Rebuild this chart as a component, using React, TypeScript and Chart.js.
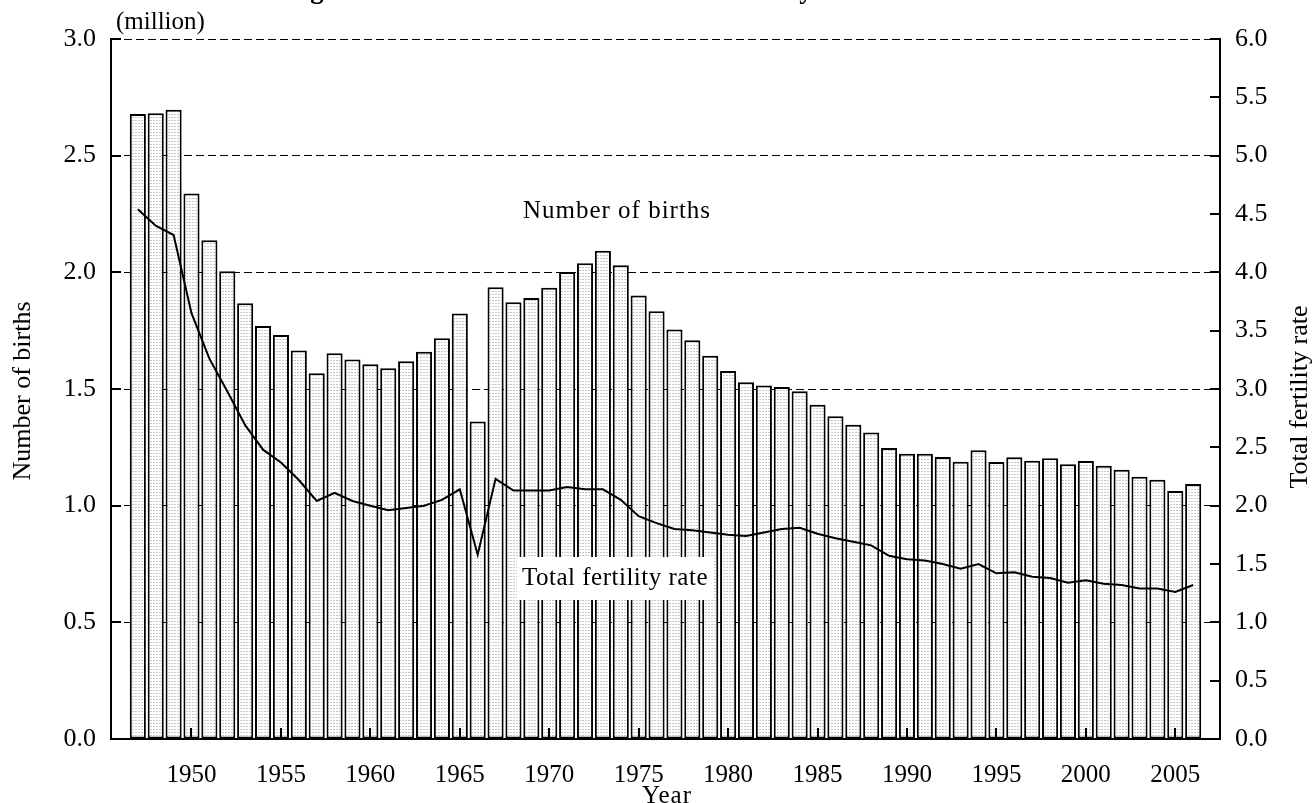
import React, { useEffect, useRef } from 'react';
import { Chart, registerables } from 'chart.js';

Chart.register(...registerables);

// ---- data ----
const years = [
  1947, 1948, 1949, 1950, 1951, 1952, 1953, 1954, 1955, 1956,
  1957, 1958, 1959, 1960, 1961, 1962, 1963, 1964, 1965, 1966,
  1967, 1968, 1969, 1970, 1971, 1972, 1973, 1974, 1975, 1976,
  1977, 1978, 1979, 1980, 1981, 1982, 1983, 1984, 1985, 1986,
  1987, 1988, 1989, 1990, 1991, 1992, 1993, 1994, 1995, 1996,
  1997, 1998, 1999, 2000, 2001, 2002, 2003, 2004, 2005, 2006,
];

// Number of births (million)
const births = [
  2.679, 2.682, 2.697, 2.338, 2.138, 2.005, 1.868, 1.770, 1.731, 1.665,
  1.567, 1.653, 1.626, 1.606, 1.589, 1.619, 1.660, 1.717, 1.824, 1.361,
  1.936, 1.872, 1.890, 1.934, 2.001, 2.039, 2.092, 2.030, 1.901, 1.833,
  1.755, 1.709, 1.643, 1.577, 1.529, 1.515, 1.509, 1.490, 1.432, 1.383,
  1.347, 1.314, 1.247, 1.222, 1.223, 1.209, 1.188, 1.238, 1.187, 1.207,
  1.192, 1.203, 1.178, 1.191, 1.171, 1.154, 1.124, 1.111, 1.063, 1.093,
];

// Total fertility rate
const fertility = [
  4.54, 4.40, 4.32, 3.65, 3.26, 2.98, 2.69, 2.48, 2.37, 2.22,
  2.04, 2.11, 2.04, 2.00, 1.96, 1.98, 2.00, 2.05, 2.14, 1.58,
  2.23, 2.13, 2.13, 2.13, 2.16, 2.14, 2.14, 2.05, 1.91, 1.85,
  1.80, 1.79, 1.77, 1.75, 1.74, 1.77, 1.80, 1.81, 1.76, 1.72,
  1.69, 1.66, 1.57, 1.54, 1.53, 1.50, 1.46, 1.50, 1.42, 1.43,
  1.39, 1.38, 1.34, 1.36, 1.33, 1.32, 1.29, 1.29, 1.26, 1.32,
];

const xTickYears = [1950, 1955, 1960, 1965, 1970, 1975, 1980, 1985, 1990, 1995, 2000, 2005];
const leftTicks = [0.5, 1.0, 1.5, 2.0, 2.5, 3.0];
const rightTicks = [0.5, 1.0, 1.5, 2.0, 2.5, 3.0, 3.5, 4.0, 4.5, 5.0, 5.5, 6.0];

const titleText = 'Figure 1  Number of Births and Total Fertility Rate';
const FONT = '"Liberation Serif", "Times New Roman", serif';

function makePattern(): CanvasPattern | string {
  const c = document.createElement('canvas');
  c.width = 3;
  c.height = 3;
  const g = c.getContext('2d');
  if (!g) return '#eeeeee';
  g.fillStyle = '#ffffff';
  g.fillRect(0, 0, 3, 3);
  g.fillStyle = '#c8c8c8';
  g.fillRect(0, 0, 2, 1);
  const p = g.createPattern(c, 'repeat');
  return p || '#eeeeee';
}

const overlayPlugin = {
  id: 'overlay',
  afterDatasetsDraw(chart: any) {
    const { ctx, chartArea, scales } = chart;
    const x = scales.x, y = scales.y, y2 = scales.y2;
    ctx.save();
    ctx.setLineDash([]);
    ctx.strokeStyle = '#000';
    ctx.lineWidth = 2;
    ctx.beginPath();
    for (const v of leftTicks) {
      const py = Math.round(y.getPixelForValue(v));
      ctx.moveTo(chartArea.left, py);
      ctx.lineTo(chartArea.left + 10, py);
    }
    for (const v of rightTicks) {
      const py = Math.round(y2.getPixelForValue(v));
      ctx.moveTo(chartArea.right - 10, py);
      ctx.lineTo(chartArea.right, py);
    }
    for (const v of xTickYears) {
      const px = Math.round(x.getPixelForValue(v));
      ctx.moveTo(px, chartArea.bottom);
      ctx.lineTo(px, chartArea.bottom - 11);
    }
    ctx.stroke();

    ctx.fillStyle = '#000';
    ctx.font = `25px ${FONT}`;
    ctx.textBaseline = 'middle';

    // series labels
    ctx.textAlign = 'center';
    (ctx as any).letterSpacing = '1px';
    ctx.fillText('Number of births', 617, 211);
    (ctx as any).letterSpacing = '0px';

    ctx.fillStyle = '#fff';
    ctx.fillRect(517, 557, 196, 43);
    ctx.fillStyle = '#000';
    (ctx as any).letterSpacing = '0.5px';
    ctx.fillText('Total fertility rate', 615, 578);
    (ctx as any).letterSpacing = '0px';

    // unit
    ctx.textAlign = 'left';
    ctx.fillText('(million)', 116, 22);

    // x axis title
    ctx.textAlign = 'center';
    (ctx as any).letterSpacing = '1px';
    ctx.fillText('Year', 667, 796);
    (ctx as any).letterSpacing = '0px';

    // y axis titles
    ctx.font = `26px ${FONT}`;
    ctx.save();
    ctx.translate(23, 391);
    ctx.rotate(-Math.PI / 2);
    ctx.fillText('Number of births', 0, 0);
    ctx.restore();

    ctx.save();
    ctx.translate(1300, 397);
    ctx.rotate(-Math.PI / 2);
    ctx.fillText('Total fertility rate', 0, 0);
    ctx.restore();

    // cut-off title at the very top (only descenders visible)
    ctx.textAlign = 'left';
    ctx.textBaseline = 'alphabetic';
    const base = 26;
    ctx.font = `bold ${base}px ${FONT}`;
    const gi = titleText.indexOf('g');
    const yi = titleText.indexOf('y');
    const gC = ctx.measureText(titleText.slice(0, gi)).width + ctx.measureText('g').width / 2;
    const yC = ctx.measureText(titleText.slice(0, yi)).width + ctx.measureText('y').width / 2;
    let fs = base * (489 / (yC - gC));
    fs = Math.max(18, Math.min(34, fs));
    ctx.font = `bold ${fs}px ${FONT}`;
    const gC2 = ctx.measureText(titleText.slice(0, gi)).width + ctx.measureText('g').width / 2;
    const startX = 317 - gC2;
    ctx.fillText(titleText, startX, 3.5 - 0.215 * fs);

    ctx.restore();
  },
};

export default function App() {
  const ref = useRef<HTMLCanvasElement | null>(null);

  useEffect(() => {
    if (!ref.current) return;
    const pattern = makePattern();
    const chart = new Chart(ref.current, {
      type: 'bar',
      data: {
        datasets: [
          {
            type: 'line',
            label: 'Total fertility rate',
            data: years.map((yr, i) => ({ x: yr, y: fertility[i] })),
            yAxisID: 'y2',
            xAxisID: 'x',
            borderColor: '#000',
            borderWidth: 2,
            pointRadius: 0,
            tension: 0,
            fill: false,
            order: 0,
          } as any,
          {
            type: 'bar',
            label: 'Number of births',
            data: years.map((yr, i) => ({ x: yr, y: births[i] })),
            yAxisID: 'y',
            xAxisID: 'x',
            backgroundColor: pattern as any,
            borderColor: '#000',
            borderWidth: 2,
            borderSkipped: false,
            barPercentage: 0.9,
            categoryPercentage: 1.0,
            order: 1,
          } as any,
        ],
      },
      options: {
        animation: false,
        responsive: true,
        maintainAspectRatio: false,
        devicePixelRatio: 1,
        layout: { padding: { top: 39, left: 0, right: 0, bottom: 0 } },
        plugins: {
          legend: { display: false },
          tooltip: { enabled: false },
          title: { display: false },
        },
        scales: {
          x: {
            type: 'linear',
            position: 'bottom',
            min: 1945.5,
            max: 2007.5,
            offset: false,
            afterBuildTicks: (s: any) => {
              s.ticks = xTickYears.map((v) => ({ value: v }));
            },
            afterFit: (s: any) => {
              s.height = 64;
            },
            grid: { display: false, drawTicks: false, offset: false },
            border: { display: true, color: '#000', width: 2 },
            ticks: {
              autoSkip: false,
              maxRotation: 0,
              padding: 21,
              color: '#000',
              font: { family: FONT, size: 25 },
              callback: (v: any) => String(v),
            },
          },
          y: {
            type: 'linear',
            position: 'left',
            min: 0,
            max: 3,
            afterFit: (s: any) => {
              s.width = 111;
            },
            grid: {
              drawTicks: false,
              lineWidth: 1,
              color: (c: any) => (c.tick && c.tick.value === 0 ? 'rgba(0,0,0,0)' : '#000'),
            },
            border: { display: true, color: '#000', width: 2, dash: [8, 4] },
            ticks: {
              stepSize: 0.5,
              padding: 15,
              color: '#000',
              font: { family: FONT, size: 26 },
              callback: (v: any) => Number(v).toFixed(1),
            },
          },
          y2: {
            type: 'linear',
            position: 'right',
            min: 0,
            max: 6,
            afterFit: (s: any) => {
              s.width = 93;
            },
            grid: { display: false, drawTicks: false, drawOnChartArea: false },
            border: { display: true, color: '#000', width: 2 },
            ticks: {
              stepSize: 0.5,
              padding: 15,
              color: '#000',
              font: { family: FONT, size: 26 },
              callback: (v: any) => Number(v).toFixed(1),
            },
          },
        },
      } as any,
      plugins: [overlayPlugin],
    });
    return () => chart.destroy();
  }, []);

  return (
    <div style={{ position: 'absolute', left: 0, top: 0, width: '1313px', height: '803px', background: '#fff' }}>
      <canvas ref={ref} />
    </div>
  );
}
